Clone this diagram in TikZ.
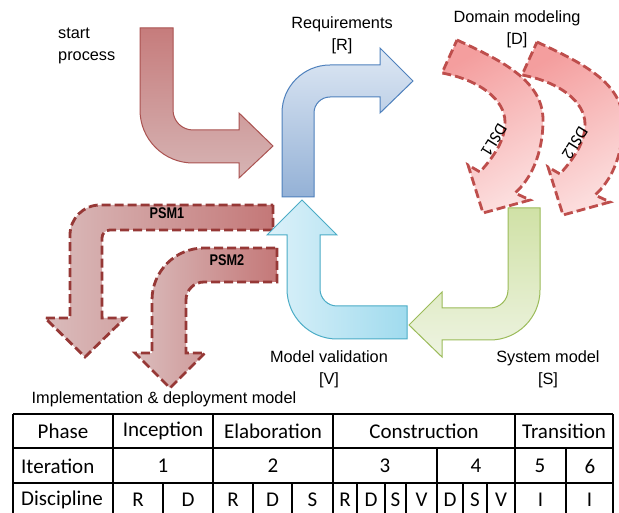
\documentclass[tikz,border=0pt]{standalone}
\usepackage{fontspec}
\setmainfont{Liberation Sans}
\newfontfamily\tabfont{Carlito}

\definecolor{startTop}{RGB}{198,124,124}
\definecolor{startBot}{RGB}{214,180,180}
\definecolor{startLine}{RGB}{170,82,80}
\definecolor{reqTop}{RGB}{222,232,244}
\definecolor{reqBot}{RGB}{148,177,214}
\definecolor{reqLine}{RGB}{79,129,189}
\definecolor{valLight}{RGB}{220,241,249}
\definecolor{valDark}{RGB}{160,219,238}
\definecolor{valLine}{RGB}{75,172,198}
\definecolor{sysTop}{RGB}{208,225,166}
\definecolor{sysBot}{RGB}{238,244,226}
\definecolor{sysLine}{RGB}{155,187,89}
\definecolor{psmLight}{RGB}{218,188,188}
\definecolor{psmDark}{RGB}{196,120,120}
\definecolor{psmLine}{RGB}{150,56,54}
\definecolor{dslTop}{RGB}{244,158,158}
\definecolor{dslBot}{RGB}{252,222,222}
\definecolor{dslLine}{RGB}{190,78,76}

\tikzset{
  solidarrow/.style={line width=1pt, line join=miter},
  dasharrow/.style={line width=2.8pt, dash pattern=on 9pt off 4pt, line join=miter},
  lbl/.style={font=\fontsize{16.3pt}{22pt}\selectfont, align=center, inner sep=0pt},
  psmlbl/.style={font=\fontsize{15.5pt}{18pt}\selectfont\bfseries, inner sep=0pt, xscale=0.82},
  dsllbl/.style={font=\tabfont\fontsize{17pt}{20pt}\selectfont, inner sep=0pt, rotate=-122},
  cell/.style={font=\tabfont\fontsize{21pt}{24pt}\selectfont, inner sep=0pt},
  gridline/.style={line width=1.1pt, black},
}

\begin{document}
\begin{tikzpicture}[x=1pt, y=-1pt]
\useasboundingbox (0,0) rectangle (619,513);
\clip (0,0) rectangle (619,513);
\fill[white] (0,0) rectangle (619,513);

% ---- start process arrow ----
\path[solidarrow, draw=startLine, top color=startTop, bottom color=startBot]
  (140,28) -- (140,110) arc[start angle=180, end angle=90, radius=53]
  -- (239,163) -- (239,178) -- (273,146) -- (239,113) -- (239,130)
  -- (193,130) arc[start angle=90, end angle=180, radius=20]
  -- (173,28) -- cycle;

% ---- PSM1 / PSM2 arrows ----
\path[dasharrow, draw=psmLine, left color=psmLight, right color=psmDark]
  (273,205) -- (273,230) -- (110,230) arc[start angle=270, end angle=180, radius=8]
  -- (102,318) -- (125,318) -- (85,357) -- (45,318) -- (70,318)
  -- (70,235) arc[start angle=180, end angle=270, radius=30] -- cycle;
\path[dasharrow, draw=psmLine, left color=psmLight, right color=psmDark]
  (277,248) -- (277,282) -- (204,282) arc[start angle=270, end angle=180, radius=18]
  -- (186,353) -- (205,353) -- (170,388) -- (135,353) -- (152,353)
  -- (152,300) arc[start angle=180, end angle=270, radius=52] -- cycle;

% ---- requirements arrow ----
\path[solidarrow, draw=reqLine, top color=reqTop, bottom color=reqBot]
  (282,197) -- (282,113) arc[start angle=180, end angle=270, radius=48]
  -- (380,65) -- (380,48) -- (413,81) -- (380,113) -- (380,97)
  -- (330,97) arc[start angle=270, end angle=180, radius=16]
  -- (314,197) -- cycle;

% ---- model validation arrow ----
\path[solidarrow, draw=valLine, left color=valLight, right color=valDark]
  (302,200) -- (337,235) -- (320,235) -- (320,289)
  arc[start angle=180, end angle=90, radius=17]
  -- (407,306) -- (407,339) -- (337,339)
  arc[start angle=90, end angle=180, radius=50]
  -- (287,235) -- (267,235) -- cycle;

% ---- system model arrow ----
\path[solidarrow, draw=sysLine, top color=sysTop, bottom color=sysBot]
  (508,208) -- (540,208) -- (540,290) arc[start angle=0, end angle=90, radius=50]
  -- (442,340) -- (442,357) -- (409,325) -- (442,292) -- (442,308)
  -- (490,308) arc[start angle=90, end angle=0, radius=18] -- cycle;

% ---- DSL arrows ----
\foreach \dx/\dy in {0/0, 80/2} {
  \begin{scope}[shift={(\dx,\dy)}]
  \path[dasharrow, draw=dslLine, top color=dslTop, bottom color=dslBot, shading angle=30]
    (457,40) .. controls (500,60) and (543,80) .. (543,120)
    .. controls (543,155) and (530,180) .. (515,193)
    -- (530,200) -- (483,213) -- (468,165) -- (480,172)
    .. controls (495,155) and (505,140) .. (505,122)
    .. controls (505,100) and (480,80) .. (442,73) -- cycle;
  \end{scope}
}
\node[dsllbl] (dsl1) at (494,140) {DSL1};
\node[dsllbl] (dsl2) at (575,143) {DSL2};

% ---- labels ----
\node[psmlbl] (psm1) at (167,213) {PSM1};
\node[psmlbl] (psm2) at (227,260) {PSM2};
\node[lbl, align=left, anchor=west] (start) at (58,46) {start\\process};
\node[lbl] (req) at (342,35) {Requirements\\{[R]}};
\node[lbl] (dom) at (517,29) {Domain modeling\\{[D]}};
\node[lbl] (val) at (329,369) {Model validation\\{[V]}};
\node[lbl] (sys) at (548,369) {System model\\{[S]}};
\node[lbl] (impl) at (164,399) {Implementation \& deployment model};

% ---- phase table ----
\foreach \y in {414,448,483} \draw[gridline] (13,\y) -- (613,\y);
\foreach \x in {13,113,213,333,515,613} \draw[gridline] (\x,414) -- (\x,513);
\foreach \x in {437,566} \draw[gridline] (\x,448) -- (\x,513);
\foreach \x in {163,253,292,357,385,406,463,487} \draw[gridline] (\x,483) -- (\x,513);

\node[cell] (hPhase) at (63,431) {Phase};
\node[cell] (hInc) at (163,431) {Inception};
\node[cell] (hEla) at (273,431) {Elaboration};
\node[cell] (hCon) at (424,431) {Construction};
\node[cell] (hTra) at (564,431) {Transition};

\node[cell, anchor=west] (hIter) at (21,466) {Iteration};
\node[cell] (it1) at (163,466) {1};
\node[cell] (it2) at (273,466) {2};
\node[cell] (it3) at (385,466) {3};
\node[cell] (it4) at (476,466) {4};
\node[cell] (it5) at (540,466) {5};
\node[cell] (it6) at (590,466) {6};

\node[cell, anchor=west] (hDisc) at (21,500) {Discipline};
\foreach \x/\t [count=\i] in {138/R,188/D,233/R,272.5/D,312.5/S,345/R,371/D,395.5/S,421.5/V,450/D,475/S,501/V,540.5/I,589.5/I}
  \node[cell] (d\i) at (\x,500) {\t};
\end{tikzpicture}
\end{document}
